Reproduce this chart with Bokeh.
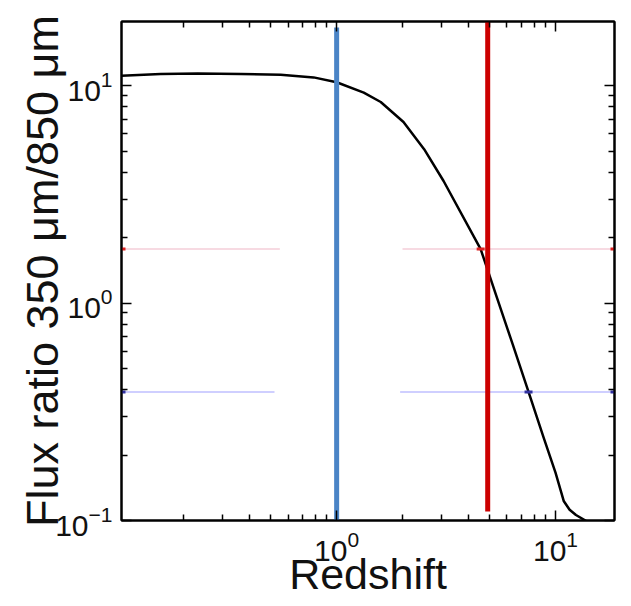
from bokeh.plotting import figure
from bokeh.models import LogAxis, FixedTicker, Range1d
from bokeh.embed import file_html
from bokeh.resources import INLINE

# ---- data ----
redshift = [0.104, 0.157, 0.232, 0.365, 0.555, 0.785, 1.0, 1.33, 1.59, 2.02,
            2.51, 3.08, 4.55, 5.38, 6.37, 7.53, 8.81, 10.0, 10.9, 11.6, 12.4, 13.7, 14.5]
flux_ratio = [11.1, 11.3, 11.35, 11.3, 11.2, 10.9, 10.35, 9.27, 8.4, 6.8,
              5.1, 3.64, 1.77, 1.07, 0.647, 0.39, 0.242, 0.166, 0.123, 0.112, 0.106, 0.100, 0.097]

blue_z = 1.0          # blue vertical marker
red_z = 4.9           # red vertical marker
red_ratio = 1.77      # faint red horizontal level
red_cross_z = 4.55
blue_ratio = 0.39     # faint blue horizontal level
blue_cross_z = 7.53

major_ticks = [0.1, 1, 10]
minor_ticks = [m * 10 ** e for e in range(-2, 2) for m in range(2, 10)]

x_lo, x_hi = 0.104, 18.6
y_lo, y_hi = 0.1, 19.7

FONT = "Liberation Sans"

p = figure(x_axis_type="log", y_axis_type="log",
           x_range=Range1d(x_lo, x_hi), y_range=Range1d(y_lo, y_hi),
           frame_width=493, frame_height=499,
           min_border_left=121, min_border_right=9, min_border_top=21, min_border_bottom=70,
           output_backend="svg", toolbar_location=None,
           background_fill_color="white", border_fill_color="white")
p.grid.visible = False
p.outline_line_color = "black"
p.outline_line_width = 2


def style_axis(ax, labels=True):
    ax.ticker = FixedTicker(ticks=major_ticks, minor_ticks=minor_ticks)
    ax.axis_line_color = "black"
    ax.axis_line_width = 2
    ax.major_tick_in = 10
    ax.major_tick_out = 0
    ax.minor_tick_in = 6
    ax.minor_tick_out = 0
    ax.major_tick_line_width = 1.5
    ax.minor_tick_line_width = 1.5
    ax.major_tick_line_color = "black"
    ax.minor_tick_line_color = "black"
    if labels:
        ax.major_label_text_font = FONT
        ax.major_label_text_font_size = "30px"
        ax.major_label_text_color = "#111111"
    else:
        ax.major_label_text_font_size = "1px"
        ax.major_label_text_alpha = 0
        ax.major_label_standoff = 0


style_axis(p.xaxis[0])
style_axis(p.yaxis[0])
p.xaxis[0].major_label_standoff = 10
p.yaxis[0].major_label_standoff = 9

p.xaxis.axis_label = "Redshift"
p.yaxis.axis_label = "Flux ratio 350 μm/850 μm"
for ax in (p.xaxis[0], p.yaxis[0]):
    ax.axis_label_text_font = FONT
    ax.axis_label_text_font_style = "normal"
    ax.axis_label_text_color = "#111111"
p.xaxis[0].axis_label_text_font_size = "43px"
p.yaxis[0].axis_label_text_font_size = "45px"
p.xaxis[0].axis_label_standoff = -14
p.yaxis[0].axis_label_standoff = -16

top = LogAxis()
right = LogAxis()
style_axis(top, labels=False)
style_axis(right, labels=False)
p.add_layout(top, "above")
p.add_layout(right, "right")

# faint horizontal levels (broken lines)
p.segment(x0=[x_lo, 2.0], x1=[0.55, x_hi], y0=[red_ratio] * 2, y1=[red_ratio] * 2,
          line_color="#e07090", line_alpha=0.35, line_width=1.5)
p.segment(x0=[x_lo, 1.95], x1=[0.52, x_hi], y0=[blue_ratio] * 2, y1=[blue_ratio] * 2,
          line_color="#6060ff", line_alpha=0.4, line_width=1.5)

# curve
p.line(redshift, flux_ratio, line_color="black", line_width=2.5)

# vertical markers
p.segment(x0=[blue_z], x1=[blue_z], y0=[y_lo], y1=[18.5], line_color="#4a84c6", line_width=5)
p.segment(x0=[red_z], x1=[red_z], y0=[0.110], y1=[y_hi], line_color="#cc0000", line_width=5)

# small level marks on the curve and frame edges
p.scatter([red_cross_z, x_lo, x_hi], [red_ratio] * 3, marker="dash", size=8,
          line_color="#dd2020", line_width=3)
p.scatter([blue_cross_z, x_lo, x_hi], [blue_ratio] * 3, marker="dash", size=8,
          line_color="#3030a0", line_width=3)

open("out.html", "w").write(file_html(p, INLINE))
